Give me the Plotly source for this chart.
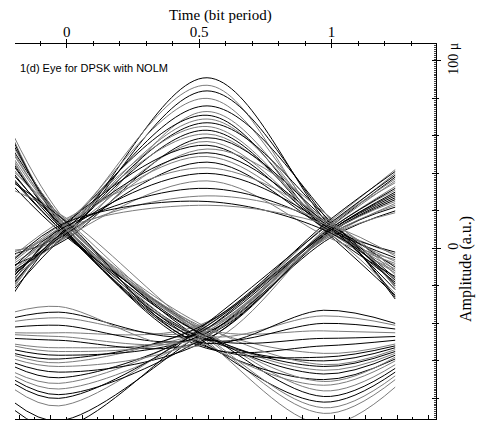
import plotly.graph_objects as go

# ---- sample instants (bit periods) for each trace family ----
T_ARCH = [-0.2, 0.0, 0.53, 1.0, 1.24]   # rise through upper crossing, peak, fall
T_DESC = [-0.2, 0.0, 0.5, 0.97, 1.24]   # fall through both crossings to the valley
T_RISE = [-0.2, -0.03, 0.5, 1.0, 1.24]  # valley, rise through both crossings

# ---- amplitudes in micro-units (a.u. x 1e-6) ----
arch_start = [-3, -8, -12, -5, -18, -1, -15, -10, -22, -6, -14, -20, -9,
              -2, -17, -11, -24, -7, -13, -4, -19, -16, -10, -21, -6, -12]
arch_c0 = [9, 12, 7, 14, 10, 6, 13, 11, 8, 15, 9, 12, 5,
           10, 14, 7, 11, 13, 8, 16, 10, 6, 12, 9, 14, 11]
arch_peak = [91, 87, 84, 80, 76, 73, 71, 69, 67, 65, 63, 61, 59,
             57, 55, 53, 51, 49, 46, 43, 40, 36, 32, 28, 25, 23]
arch_c1 = [11, 8, 13, 9, 15, 10, 7, 12, 14, 9, 6, 11, 13,
           8, 10, 16, 12, 7, 9, 14, 11, 5, 10, 13, 8, 12]
arch_end = [-18, -6, -22, -12, -27, -9, -15, -3, -20, -11, -25, -7, -16,
            -13, -2, -21, -10, -24, -5, -14, -19, -8, -26, -12, -17, -4]

desc_start = [58, 52, 47, 55, 41, 36, 50, 44, 60, 33, 48,
              39, 54, 45, 31, 57, 42, 37, 51, 35, 46, 40]
desc_c0 = [10, 13, 8, 11, 15, 7, 12, 9, 14, 6, 11,
           10, 13, 8, 16, 9, 12, 7, 11, 14, 10, 8]
desc_c2 = [-45, -48, -42, -50, -44, -47, -41, -52, -46, -43, -49,
           -45, -40, -51, -44, -47, -42, -48, -46, -50, -43, -45]
desc_low = [-88, -82, -76, -70, -65, -60, -56, -52, -94, -79, -73,
            -67, -62, -58, -85, -48, -44, -40, -36, -33, -71, -63]
desc_end = [-70, -66, -62, -59, -56, -53, -51, -49, -74, -64, -60,
            -57, -54, -52, -68, -47, -45, -43, -41, -40, -58, -55]

rise_start = [-82, -75, -70, -66, -61, -57, -54, -51, -48, -45, -42,
              -39, -37, -34, -86, -68, -63, -59, -56, -52, -72, -46]
rise_low = [-92, -84, -78, -72, -66, -61, -57, -53, -49, -45, -41,
            -37, -34, -31, -96, -75, -69, -63, -59, -55, -80, -47]
rise_c2 = [-46, -43, -49, -44, -51, -42, -47, -45, -50, -41, -48,
           -44, -46, -52, -43, -47, -45, -49, -42, -46, -44, -48]
rise_c1 = [10, 7, 12, 14, 9, 11, 6, 13, 10, 15, 8,
           12, 9, 11, 14, 7, 10, 13, 16, 8, 11, 9]
rise_end = [30, 24, 38, 35, 27, 33, 20, 40, 29, 42, 22,
            36, 26, 31, 39, 19, 28, 37, 41, 23, 32, 25]

# ---- axis text ----
X_TICKS = [0, 0.5, 1]
X_TICK_TEXT = ["0", "0.5", "1"]
Y_TICKS = [0, 100]
Y_TICK_TEXT = ["0", "100 \u03bc"]

LINE_COLORS = ["#000000", "#7c7c7c"]
SERIF = "Liberation Serif, Times New Roman, serif"
SANS = "Liberation Sans, Arial, sans-serif"

X_RANGE = [-0.195, 1.394]
Y_RANGE = [-91, 109]

families = [
    (T_ARCH, [arch_start, arch_c0, arch_peak, arch_c1, arch_end]),
    (T_DESC, [desc_start, desc_c0, desc_c2, desc_low, desc_end]),
    (T_RISE, [rise_start, rise_low, rise_c2, rise_c1, rise_end]),
]

fig = go.Figure()
k = 0
n_max = max(len(cols[0]) for _, cols in families)
for i in range(n_max):
    for times, cols in families:
        if i < len(cols[0]):
            fig.add_trace(go.Scatter(
                x=times, y=[c[i] for c in cols], mode="lines",
                line=dict(color=LINE_COLORS[k % 2], width=1, shape="spline",
                          smoothing=1.0),
                showlegend=False, hoverinfo="skip"))
            k += 1

# dummy traces so the overlaid tick axes are drawn
fig.add_trace(go.Scatter(x=[None], y=[None], xaxis="x2", yaxis="y2",
                         showlegend=False, hoverinfo="skip"))
fig.add_trace(go.Scatter(x=[None], y=[None], xaxis="x3", yaxis="y",
                         showlegend=False, hoverinfo="skip"))

# the page body has an 8 px margin, so the figure is sized/placed to match
fig.update_layout(
    template="none",
    width=476, height=413,
    margin=dict(l=7, r=48, t=36, b=2, autoexpand=False),
    paper_bgcolor="white", plot_bgcolor="white",
    # labelled top axis: ticks point into the plot
    xaxis=dict(side="top", anchor="y", range=X_RANGE, showgrid=False,
               automargin=False,
               zeroline=False, showline=True, linecolor="black", linewidth=1,
               ticks="inside", ticklen=4, tickcolor="black",
               tickvals=X_TICKS, ticktext=X_TICK_TEXT,
               tickfont=dict(family=SERIF, size=15, color="black"),
               minor=dict(ticks="inside", dtick=0.1, tick0=0, ticklen=2,
                          tickcolor="black", showgrid=False)),
    # overlay top axis: the outward half of the crossing ticks
    xaxis2=dict(side="top", overlaying="x", anchor="y2", range=X_RANGE,
                automargin=False,
                showgrid=False, zeroline=False, showline=False,
                ticks="outside", ticklen=4, tickcolor="black",
                tickvals=X_TICKS, showticklabels=False,
                minor=dict(ticks="outside", dtick=0.1, tick0=0, ticklen=2,
                           tickcolor="black", showgrid=False)),
    xaxis3=dict(side="bottom", overlaying="x", anchor="y", range=X_RANGE,
                automargin=False,
                showgrid=False, zeroline=False, showline=True,
                linecolor="black", linewidth=1,
                ticks="inside", ticklen=4, tickcolor="black",
                tick0=-0.0604, dtick=0.1189, showticklabels=False,
                minor=dict(ticks="inside", dtick=0.05945, tick0=-0.0604,
                           ticklen=2, tickcolor="black", showgrid=False)),
    yaxis=dict(side="right", anchor="x", range=Y_RANGE, showgrid=False,
               automargin=False,
               zeroline=False, showline=True, linecolor="black", linewidth=1,
               ticks="outside", ticklen=4, tickcolor="black",
               tickvals=Y_TICKS, ticktext=Y_TICK_TEXT, tickangle=-90,
               tickfont=dict(family=SERIF, size=14, color="black"),
               minor=dict(ticks="outside", dtick=20, tick0=0, ticklen=2,
                          tickcolor="black", showgrid=False)),
    yaxis2=dict(side="right", overlaying="y", anchor="x", range=Y_RANGE,
                automargin=False,
                showgrid=False, zeroline=False, showline=False,
                ticks="inside", ticklen=4, tickcolor="black",
                dtick=20, tick0=0, showticklabels=False,
                minor=dict(ticks="inside", dtick=1, tick0=0, ticklen=2,
                           tickcolor="#444444", showgrid=False)),
    annotations=[
        dict(text="Time (bit period)", xref="paper", yref="paper",
             x=0.487, y=1.0747, xanchor="center", yanchor="middle",
             showarrow=False, font=dict(family=SERIF, size=15, color="black")),
        dict(text="Amplitude (a.u.)", xref="paper", yref="paper",
             x=1.0713, y=0.40, xanchor="center", yanchor="middle",
             textangle=-90, showarrow=False,
             font=dict(family=SERIF, size=16, color="black")),
        dict(text="1(d) Eye for DPSK with NOLM", xref="paper", yref="paper",
             x=0.007, y=0.936, xanchor="left", yanchor="middle",
             showarrow=False, font=dict(family=SANS, size=11, color="black")),
    ],
)

fig.write_html("out.html")
